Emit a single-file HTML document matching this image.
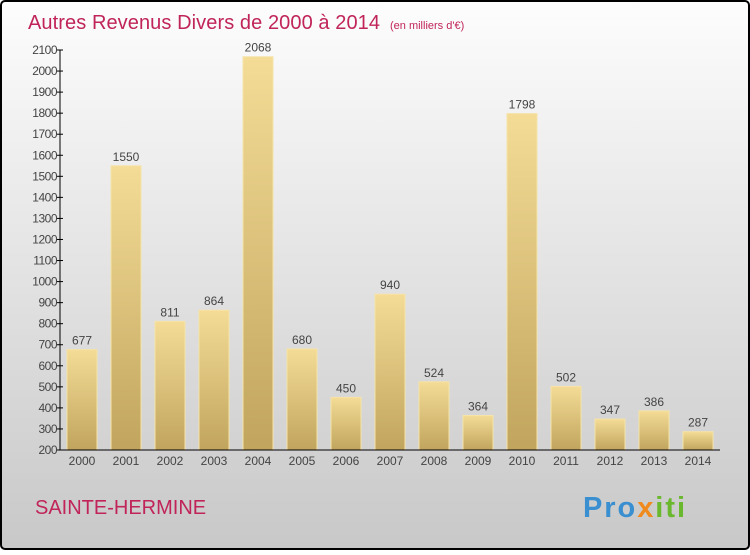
<!DOCTYPE html>
<html><head><meta charset="utf-8"><style>
body{margin:0;width:750px;height:550px;overflow:hidden;font-family:"Liberation Sans",sans-serif}
</style></head><body>
<svg width="750" height="550" xmlns="http://www.w3.org/2000/svg">
<defs>
<linearGradient id="bg" x1="0" y1="0" x2="0" y2="1"><stop offset="0" stop-color="#fdfdfd"/><stop offset="1" stop-color="#c8c8c8"/></linearGradient>
<linearGradient id="bar" x1="0" y1="0" x2="0" y2="1"><stop offset="0" stop-color="#f4dc96"/><stop offset="1" stop-color="#c1a55e"/></linearGradient>
</defs>
<rect x="1" y="1" width="748" height="548" rx="4" fill="url(#bg)" stroke="#000" stroke-width="2"/>
<text x="28" y="29" font-size="20" fill="#c0245a" textLength="352">Autres Revenus Divers de 2000 à 2014</text>
<text x="390" y="29" font-size="11" fill="#c0245a">(en milliers d'€)</text>
<g id="plot"></g>
<text x="35" y="514" font-size="20" fill="#c0245a">SAINTE-HERMINE</text>
<text x="583" y="517" font-size="29" font-weight="bold" fill="#3a8fd0" textLength="102">Pro<tspan fill="#f08a1c">x</tspan><tspan fill="#6ab82e">iti</tspan></text>
</svg>
<script>
const years=["2000","2001","2002","2003","2004","2005","2006","2007","2008","2009","2010","2011","2012","2013","2014"];
const values=[677,1550,811,864,2068,680,450,940,524,364,1798,502,347,386,287];
const ticks=[200,300,400,500,600,700,800,900,1000,1100,1200,1300,1400,1500,1600,1700,1800,1900,2000,2100];
const NS="http://www.w3.org/2000/svg";
const g=document.getElementById('plot');
const y=v=>450-(v-200)*400/1900;
const x0=60,slot=44;
function el(t,a,txt){const e=document.createElementNS(NS,t);for(const k in a)e.setAttribute(k,a[k]);if(txt!=null)e.textContent=txt;g.appendChild(e);return e;}
years.forEach((yr,i)=>{
 const cx=x0+slot*i+22;
 const b=el('rect',{x:cx-15,y:y(values[i]),width:30,height:450-y(values[i]),fill:'url(#bar)',stroke:'#f6e3a8','stroke-width':1});
 
 
 const l=el('text',{x:cx,y:y(values[i])-5,'font-size':12,fill:'#444','text-anchor':'middle'},values[i]);
 
 
 const t=el('text',{x:cx,y:465,'font-size':12,fill:'#444','text-anchor':'middle'},yr);
 
 
});
ticks.forEach(v=>{
 const tk=el('line',{x1:56,x2:63,y1:y(v),y2:y(v),stroke:'#000'});
 
 
 const t=el('text',{x:57,y:y(v)+4,'font-size':12,fill:'#444','text-anchor':'end','letter-spacing':'-0.5'},v);
 
 
});
const ya=el('line',{x1:60,x2:60,y1:50,y2:450,stroke:'#000'});


const xa=el('line',{x1:60,x2:720,y1:450,y2:450,stroke:'#000'});


</script>
</body></html>
